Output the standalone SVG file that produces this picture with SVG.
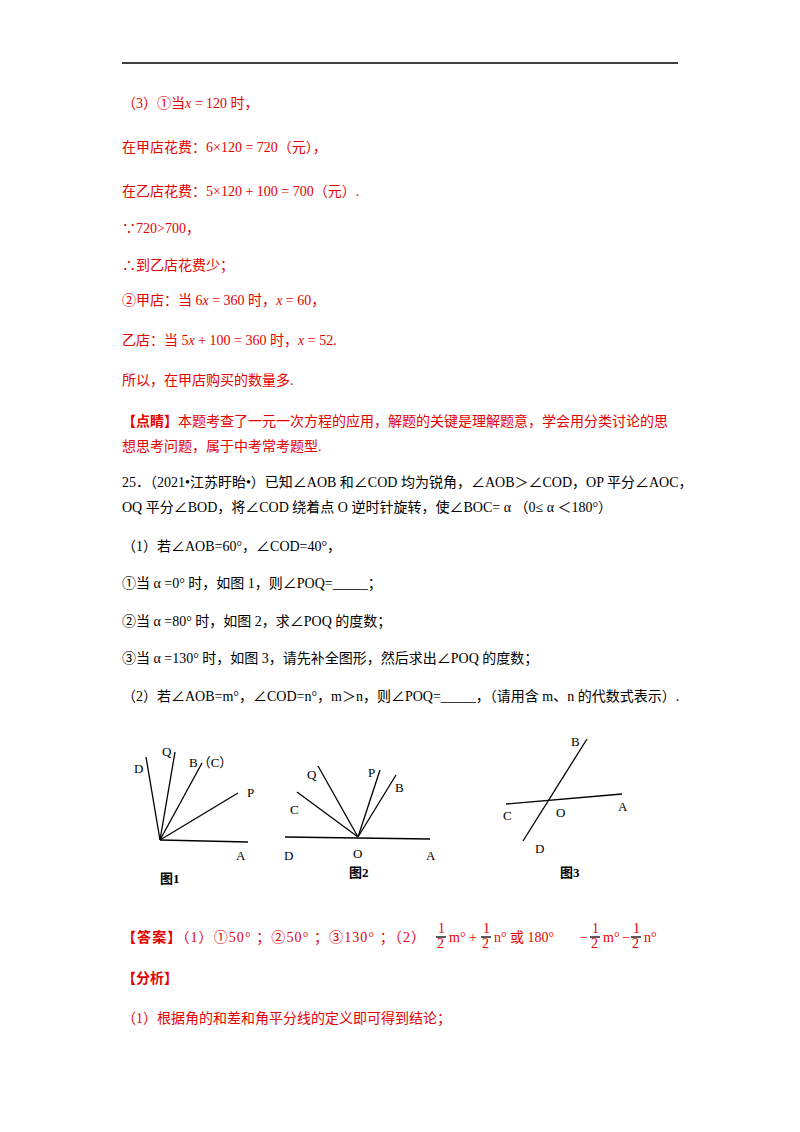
<svg xmlns="http://www.w3.org/2000/svg" width="800" height="1132" viewBox="0 0 800 1132">
<style>
text{font-family:"Liberation Serif","Noto Sans CJK SC",serif;font-size:14px}
.r{fill:#e60000}
.k{fill:#000}
.b{font-weight:bold}
.i{font-style:italic}
.lbl{font-family:"Liberation Serif","Noto Sans CJK SC",serif;font-size:13px}
line{stroke:#000;stroke-width:1.3}
</style>
<rect width="800" height="1132" fill="#fff"/>
<line x1="122" y1="63" x2="678" y2="63" stroke-width="1.5"/>
<g id="text">
<text class="r" x="122" y="108">（3）①当<tspan class="i">x</tspan> = 120 时，</text>
<text class="r" x="122" y="152">在甲店花费：6×120 = 720（元），</text>
<text class="r" x="122" y="196">在乙店花费：5×120 + 100 = 700（元）.</text>
<text class="r" x="122" y="233">∵720&gt;700，</text>
<text class="r" x="122" y="270">∴到乙店花费少；</text>
<text class="r" x="122" y="305">②甲店：当 6<tspan class="i">x</tspan> = 360 时，<tspan class="i">x</tspan> = 60，</text>
<text class="r" x="122" y="345">乙店：当 5<tspan class="i">x</tspan> + 100 = 360 时，<tspan class="i">x</tspan> = 52.</text>
<text class="r" x="122" y="385">所以，在甲店购买的数量多.</text>
<text class="r" x="122" y="426"><tspan class="b">【点睛】</tspan>本题考查了一元一次方程的应用，解题的关键是理解题意，学会用分类讨论的思</text>
<text class="r" x="122" y="451">想思考问题，属于中考常考题型.</text>
<text class="k" x="122" y="487">25．（2021•江苏盱眙•）已知∠AOB 和∠COD 均为锐角，∠AOB＞∠COD，OP 平分∠AOC，</text>
<text class="k" x="122" y="512">OQ 平分∠BOD，将∠COD 绕着点 O 逆时针旋转，使∠BOC= α （0≤ α ＜180°）</text>
<text class="k" x="122" y="551">（1）若∠AOB=60°，∠COD=40°，</text>
<text class="k" x="122" y="588">①当 α =0° 时，如图 1，则∠POQ=_____；</text>
<text class="k" x="122" y="626">②当 α =80° 时，如图 2，求∠POQ 的度数；</text>
<text class="k" x="122" y="663">③当 α =130° 时，如图 3，请先补全图形，然后求出∠POQ 的度数；</text>
<text class="k" x="122" y="701">（2）若∠AOB=m°，∠COD=n°，m＞n，则∠POQ=_____，（请用含 m、n 的代数式表示）.</text>
<text class="r" x="122" y="942" textLength="303" lengthAdjust="spacing"><tspan class="b">【答案】</tspan>（1）①50° ；②50° ；③130° ；（2）</text>
<text class="r" x="122" y="983"><tspan class="b">【分析】</tspan></text>
<text class="r" x="122" y="1023">（1）根据角的和差和角平分线的定义即可得到结论；</text>
</g>
<g id="answer-fractions">
<text class="r" x="438" y="933" font-size="11">1</text><line x1="436" y1="937" x2="446" y2="937" stroke="#e60000" stroke-width="0.8"/><text class="r" x="437" y="948" font-size="11">2</text>
<text class="r" x="449" y="942">m° +</text>
<text class="r" x="483" y="933" font-size="11">1</text><line x1="481" y1="937" x2="491" y2="937" stroke="#e60000" stroke-width="0.8"/><text class="r" x="482" y="948" font-size="11">2</text>
<text class="r" x="494" y="942">n° 或 180°</text>
<text class="r" x="580" y="942">−</text>
<text class="r" x="592" y="933" font-size="11">1</text><line x1="590" y1="937" x2="600" y2="937" stroke="#e60000" stroke-width="0.8"/><text class="r" x="591" y="948" font-size="11">2</text>
<text class="r" x="603" y="942">m°</text>
<text class="r" x="622" y="942">−</text>
<text class="r" x="633" y="933" font-size="11">1</text><line x1="631" y1="937" x2="641" y2="937" stroke="#e60000" stroke-width="0.8"/><text class="r" x="632" y="948" font-size="11">2</text>
<text class="r" x="644" y="942">n°</text>
</g>
<g id="fig1">
<line x1="160" y1="840" x2="146" y2="757"/>
<line x1="160" y1="840" x2="175" y2="752"/>
<line x1="160" y1="840" x2="202" y2="763"/>
<line x1="160" y1="840" x2="238" y2="793"/>
<line x1="160" y1="840" x2="248" y2="842"/>
<text class="lbl" x="134" y="773">D</text>
<text class="lbl" x="162" y="756">Q</text>
<text class="lbl" x="189" y="767">B（C）</text>
<text class="lbl" x="247" y="797">P</text>
<text class="lbl" x="236" y="860">A</text>
<text class="lbl b" x="160" y="883">图1</text>
</g>
<g id="fig2">
<line x1="285" y1="837" x2="430" y2="839"/>
<line x1="358" y1="837" x2="297" y2="792"/>
<line x1="358" y1="837" x2="318" y2="766"/>
<line x1="358" y1="837" x2="380" y2="770"/>
<line x1="358" y1="837" x2="396" y2="775"/>
<text class="lbl" x="307" y="779">Q</text>
<text class="lbl" x="290" y="814">C</text>
<text class="lbl" x="368" y="777">P</text>
<text class="lbl" x="395" y="792">B</text>
<text class="lbl" x="284" y="860">D</text>
<text class="lbl" x="353" y="858">O</text>
<text class="lbl" x="426" y="860">A</text>
<text class="lbl b" x="349" y="877">图2</text>
</g>
<g id="fig3">
<line x1="506" y1="804" x2="622" y2="794"/>
<line x1="523" y1="841" x2="587" y2="739"/>
<text class="lbl" x="571" y="746">B</text>
<text class="lbl" x="503" y="820">C</text>
<text class="lbl" x="556" y="817">O</text>
<text class="lbl" x="618" y="811">A</text>
<text class="lbl" x="535" y="853">D</text>
<text class="lbl b" x="560" y="877">图3</text>
</g>
</svg>
